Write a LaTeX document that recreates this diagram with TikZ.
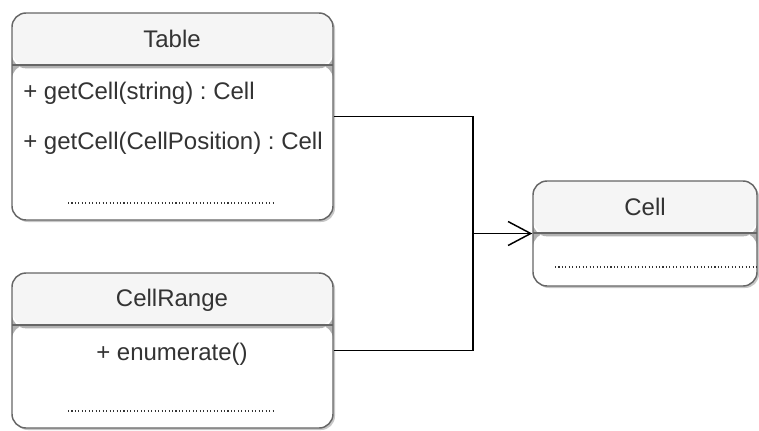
\documentclass[tikz,border=0pt]{standalone}
\usepackage{fontspec}
\setmainfont{Liberation Sans}
\usetikzlibrary{arrows.meta,fit,shadows}
\definecolor{linegray}{RGB}{102,102,102}
\definecolor{headgray}{RGB}{245,245,245}
\definecolor{textgray}{RGB}{51,51,51}
\frenchspacing
\tikzset{
  classbox/.style={rounded corners=10.5pt, draw=linegray, fill=white, line width=1.1pt, inner sep=0pt,
    drop shadow={shadow xshift=1.5pt, shadow yshift=-1.5pt, fill=black!22, opacity=1},
    path picture={
      \fill[headgray] (path picture bounding box.north west) rectangle ([yshift=-39pt]path picture bounding box.north east);
      \fill[black!30] ([yshift=-39pt]path picture bounding box.north west) rectangle ([yshift=-41.5pt]path picture bounding box.north east);
      \draw[linegray, line width=1.1pt] ([yshift=-39pt]path picture bounding box.north west) -- ([yshift=-39pt]path picture bounding box.north east);
    }},
  classtext/.style={inner sep=0.75pt, text=textgray},
  dotline/.style={draw=textgray, line width=0.8pt, dash pattern=on 0.8pt off 1.8pt},
  conn/.style={draw=black, line width=1.1pt}
}
\begin{document}
\begin{tikzpicture}[x=0.75pt,y=0.75pt,yscale=-1,xscale=1, font=\fontsize{18}{21}\selectfont]
\useasboundingbox (0,0) rectangle (759,430);

%Shape: Class [Table]
\node [classbox, fit={(12,13) (333,220)}] (tbl) {};
%Shape: Class [CellRange]
\node [classbox, fit={(12,273) (333,428)}] (rng) {};
%Shape: Class [Cell]
\node [classbox, fit={(533,181) (757,286)}] (cell) {};

% Text Node
\node [classtext] (tblname) at (172,39) {Table};
% Text Node
\node [classtext, anchor=west] (tblop1) at (22,93) {+ getCell(string) : Cell};
% Text Node
\node [classtext, anchor=west] (tblop2) at (22,143) {+ getCell(CellPosition) : Cell};
% Text Node
\node [classtext] (rngname) at (172,300) {CellRange};
% Text Node
\node [classtext] (rngop1) at (172,354) {+ enumerate()};
% Text Node
\node [classtext] (cellname) at (645,207) {Cell};

%Straight Lines [dotted]
\draw [dotline] (68,203) -- (273,203);
\draw [dotline] (68,411) -- (273,411);
\draw [dotline] (555,267) -- (757,267);

%Connectors
\coordinate (join) at (473,233.5);
\draw [conn] (tbl.east) -| (join);
\draw [conn] (rng.east) -| (join);
\draw [conn, -{Straight Barb[length=17pt,width=18pt,line width=1.1pt]}] (join) -- (cell.west);

\end{tikzpicture}
\end{document}
